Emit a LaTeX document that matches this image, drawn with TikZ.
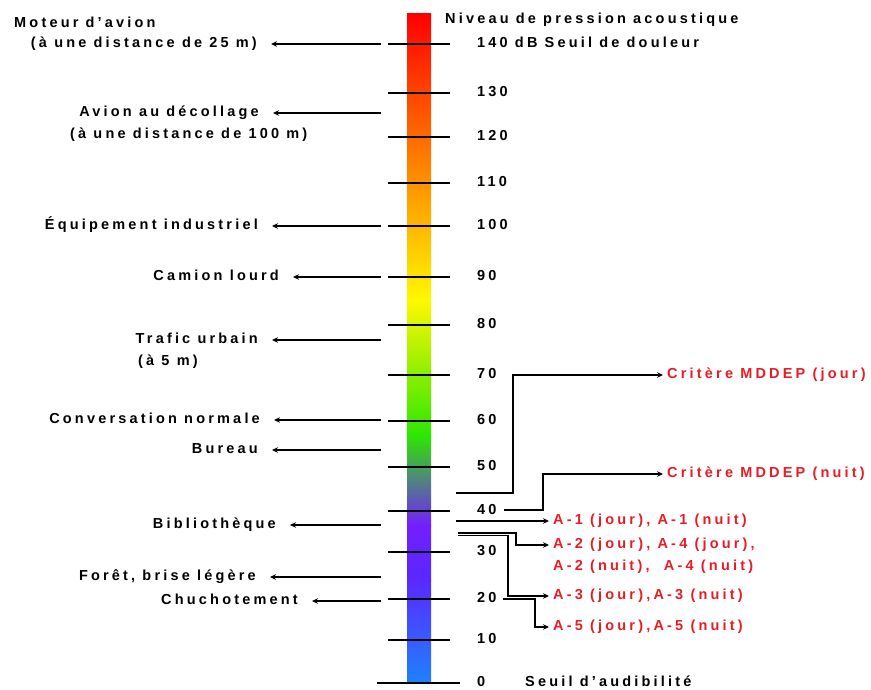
\documentclass[tikz,border=0pt]{standalone}
\usepackage{fontspec}
\setmainfont{Liberation Sans}
\newfontfamily\lblfont{Liberation Sans}[UprightFont={* Bold}, LetterSpace=22]
\usetikzlibrary{arrows.meta}
\definecolor{redlbl}{RGB}{232,28,36}
\definecolor{cA}{RGB}{255,0,0}
\definecolor{cB}{RGB}{255,248,0}
\definecolor{cC}{RGB}{45,232,0}
\definecolor{cD}{RGB}{115,30,255}
\definecolor{cE}{RGB}{90,40,255}
\definecolor{cF}{RGB}{30,130,255}
\begin{document}
\begin{tikzpicture}[x=1pt,y=-1pt,
  txt/.style={font=\lblfont\fontsize{14.5}{16}\selectfont, inner sep=0pt, text height=10.5pt, text depth=3pt},
  ltxt/.style={txt, anchor=east, inner xsep=14pt},
  rtxt/.style={txt, text=redlbl, anchor=west, inner xsep=4pt},
  num/.style={txt, anchor=west},
  tickln/.style={line width=1.4pt},
  arr/.style={line width=1.4pt, -{Stealth[length=6pt,width=5.5pt]}}
]
\useasboundingbox (0,0) rectangle (871,690);
% colour bar
\shade[top color=cA, bottom color=cB] (407,14) rectangle (431,300.5);
\shade[top color=cB, bottom color=cC] (407,300) rectangle (431,435.5);
\shade[top color=cC, bottom color=cD] (407,435) rectangle (431,525.5);
\shade[top color=cD, bottom color=cE] (407,525) rectangle (431,580.5);
\shade[top color=cE, bottom color=cF] (407,580) rectangle (431,683);
% ticks and scale numbers
\foreach \v/\y in {130/93,120/137,110/183,100/226,90/277,80/325,70/375,60/421,50/467,40/511,30/552,20/599,10/640}{
  \draw[tickln] (388,\y) -- (450,\y);
  \node[num] (n\v) at (477,\y) {\v};
}
\draw[tickln] (388,44) -- (450,44);
\draw[tickln] (377,683) -- (460,683);
\node[num] (n140) at (477,44) {140 dB Seuil de douleur};
\node[num] (title) at (445,20) {Niveau de pression acoustique};
\node[num] (n0) at (477,683) {0};
\node[num] (seuil) at (525,683) {Seuil d’audibilité};
% left labels
\node[ltxt] (moteur) at (271,44) {(à une distance de 25 m)};
\node[txt, anchor=west] (moteurA) at (14,24) {Moteur d’avion};
\node[ltxt] (avion) at (273,113) {Avion au décollage};
\node[txt, anchor=west] (avionB) at (70,135) {(à une distance de 100 m)};
\node[ltxt] (equip) at (272,226) {Équipement industriel};
\node[ltxt] (camion) at (293,277) {Camion lourd};
\node[ltxt] (trafic) at (272,340) {Trafic urbain};
\node[txt, anchor=west] (traficB) at (138,362) {(à 5 m)};
\node[ltxt] (conv) at (274,420) {Conversation normale};
\node[ltxt] (bureau) at (272,450) {Bureau};
\node[ltxt] (biblio) at (290,525) {Bibliothèque};
\node[ltxt] (foret) at (270,577) {Forêt, brise légère};
\node[ltxt] (chuch) at (312,601) {Chuchotement};
\foreach \n/\y in {moteur/44,avion/113,equip/226,camion/277,trafic/340,conv/420,bureau/450,biblio/525,foret/577,chuch/601}{
  \coordinate (s\n) at (381,\y);
  \draw[arr] (s\n) -- (\n.east);
}
% right labels
\node[rtxt] (jour) at (663,375) {Critère MDDEP (jour)};
\node[rtxt] (nuit) at (663,474) {Critère MDDEP (nuit)};
\node[rtxt] (a1) at (549,521) {A-1 (jour), A-1 (nuit)};
\node[rtxt] (a2) at (549,545) {A-2 (jour), A-4 (jour),};
\node[txt, text=redlbl, anchor=west] (a2b) at (553,567) {A-2 (nuit),\ \ A-4 (nuit)};
\node[rtxt] (a3) at (549,596) {A-3 (jour),A-3 (nuit)};
\node[rtxt] (a5) at (549,627) {A-5 (jour),A-5 (nuit)};
\coordinate (j0) at (456,493);
\coordinate (k0) at (504,510);
\coordinate (p0) at (456,521);
\coordinate (b0) at (458,533);
\coordinate (c0) at (458,535.5);
\coordinate (d0) at (503,599);
\draw[arr] (j0) -- ++(57,0) |- (jour.west);
\draw[arr] (k0) -- ++(39,0) |- (nuit.west);
\draw[arr] (p0) -- (a1.west);
\draw[arr] (b0) -- ++(58,0) |- (a2.west);
\draw[arr] (c0) -- ++(50,0) |- (a3.west);
\draw[arr] (d0) -- ++(32,0) |- (a5.west);
\end{tikzpicture}
\end{document}
